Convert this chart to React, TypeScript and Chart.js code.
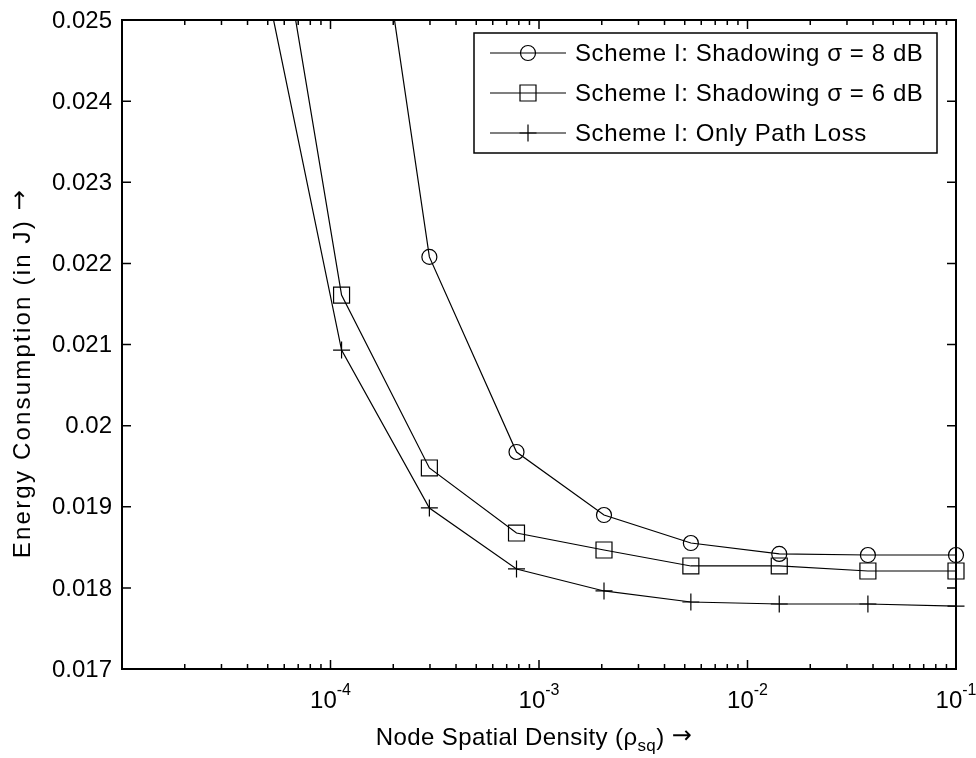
import React, { useEffect, useRef } from 'react';
import { Chart, registerables } from 'chart.js';

Chart.register(...registerables);

// ---- data ----
const xValues = [4.28e-5, 1.13e-4, 2.98e-4, 7.8e-4, 2.05e-3, 5.35e-3, 1.42e-2, 3.78e-2, 0.1];
const shadowing8 = [0.0385, 0.02943, 0.02208, 0.019675, 0.018898, 0.018553, 0.018418, 0.018405, 0.018405];
const shadowing6 = [0.0281, 0.021609, 0.019478, 0.018676, 0.018467, 0.01827, 0.01827, 0.018208, 0.018208];
const pathLoss = [0.02619, 0.020931, 0.018985, 0.018233, 0.017962, 0.017826, 0.017801, 0.017801, 0.017776];
const seriesLabels = [
  'Scheme I: Shadowing \u03c3 = 8 dB',
  'Scheme I: Shadowing \u03c3 = 6 dB',
  'Scheme I: Only Path Loss',
];
const seriesMarkers = ['circle', 'rect', 'cross'];
const yTicks = [0.017, 0.018, 0.019, 0.02, 0.021, 0.022, 0.023, 0.024, 0.025];
const xDecades = [-5, -4, -3, -2, -1];
const xLabelExps = [-4, -3, -2, -1];
const xTitleMain = 'Node Spatial Density (\u03c1';
const xTitleSub = 'sq';
const xTitleEnd = ')';
const yTitleText = 'Energy Consumption (in J)';
const ARROW = '\u2192';

const FONT = '"Liberation Sans", Arial, sans-serif';
const ARROW_FONT = '"DejaVu Sans", sans-serif';

function setSpacing(ctx: CanvasRenderingContext2D, px: number) {
  (ctx as any).letterSpacing = `${px}px`;
}

function drawMarker(ctx: CanvasRenderingContext2D, style: string, x: number, y: number) {
  ctx.beginPath();
  if (style === 'circle') {
    ctx.arc(x, y, 7.5, 0, Math.PI * 2);
  } else if (style === 'rect') {
    ctx.rect(x - 8, y - 8, 16, 16);
  } else {
    ctx.moveTo(x - 8.5, y);
    ctx.lineTo(x + 8.5, y);
    ctx.moveTo(x, y - 8.5);
    ctx.lineTo(x, y + 8.5);
  }
  ctx.stroke();
}

const matlabAxes = {
  id: 'matlabAxes',
  afterDatasetsDraw(chart: any) {
    const ctx: CanvasRenderingContext2D = chart.ctx;
    const { left, right, top, bottom } = chart.chartArea;
    const xs = chart.scales.x;
    const ys = chart.scales.y;
    ctx.save();
    ctx.strokeStyle = '#000';
    ctx.fillStyle = '#000';
    // box
    ctx.lineWidth = 2;
    ctx.strokeRect(left, top, right - left, bottom - top);
    // ticks
    ctx.lineWidth = 1.5;
    ctx.beginPath();
    xDecades.forEach((d) => {
      for (let m = 1; m <= 9; m++) {
        const v = m * Math.pow(10, d);
        if (v > 0.1 * 1.0001) continue;
        const px = xs.getPixelForValue(v);
        const len = m === 1 ? 9 : 5;
        ctx.moveTo(px, bottom);
        ctx.lineTo(px, bottom - len);
        ctx.moveTo(px, top);
        ctx.lineTo(px, top + len);
      }
    });
    yTicks.forEach((v) => {
      const py = ys.getPixelForValue(v);
      ctx.moveTo(left, py);
      ctx.lineTo(left + 9, py);
      ctx.moveTo(right, py);
      ctx.lineTo(right - 9, py);
    });
    ctx.stroke();
    // y tick labels
    ctx.font = `24px ${FONT}`;
    ctx.textAlign = 'right';
    ctx.textBaseline = 'middle';
    yTicks.forEach((v) => {
      const py = ys.getPixelForValue(v);
      ctx.fillText(String(Number(v.toFixed(3))), left - 10, py + 1);
    });
    // x tick labels 10^n
    ctx.textBaseline = 'alphabetic';
    ctx.textAlign = 'left';
    xLabelExps.forEach((e) => {
      const px = xs.getPixelForValue(Math.pow(10, e));
      ctx.font = `24px ${FONT}`;
      const wb = ctx.measureText('10').width;
      ctx.font = `16px ${FONT}`;
      const es = String(e);
      const we = ctx.measureText(es).width;
      const x0 = px - (wb + we) / 2;
      ctx.font = `24px ${FONT}`;
      ctx.fillText('10', x0, 708);
      ctx.font = `16px ${FONT}`;
      ctx.fillText(es, x0 + wb, 695);
    });
    // x title
    setSpacing(ctx, 0.4);
    ctx.font = `24px ${FONT}`;
    const w1 = ctx.measureText(xTitleMain).width;
    const w3 = ctx.measureText(xTitleEnd + ' ').width;
    ctx.font = `24px ${ARROW_FONT}`;
    const w4 = ctx.measureText(ARROW).width;
    ctx.font = `17px ${FONT}`;
    const w2 = ctx.measureText(xTitleSub).width;
    const cx = (left + right) / 2 - 5;
    let tx = cx - (w1 + w2 + w3 + w4) / 2;
    ctx.font = `24px ${FONT}`;
    ctx.fillText(xTitleMain, tx, 745);
    tx += w1;
    ctx.font = `17px ${FONT}`;
    ctx.fillText(xTitleSub, tx, 751);
    tx += w2;
    ctx.font = `24px ${FONT}`;
    ctx.fillText(xTitleEnd + ' ', tx, 745);
    tx += w3;
    ctx.font = `24px ${ARROW_FONT}`;
    ctx.fillText(ARROW, tx, 743);
    // y title
    ctx.save();
    ctx.translate(22, 373);
    ctx.rotate(-Math.PI / 2);
    ctx.textAlign = 'left';
    ctx.textBaseline = 'middle';
    setSpacing(ctx, 2.2);
    ctx.font = `24px ${FONT}`;
    const yw = ctx.measureText(yTitleText + ' ').width;
    ctx.font = `24px ${ARROW_FONT}`;
    const aw = ctx.measureText(ARROW).width;
    const sx = -(yw + aw) / 2;
    ctx.font = `24px ${FONT}`;
    ctx.fillText(yTitleText + ' ', sx, 1);
    ctx.font = `24px ${ARROW_FONT}`;
    setSpacing(ctx, 0);
    ctx.fillText(ARROW, sx + yw, -1);
    ctx.restore();
    // legend
    setSpacing(ctx, 0.6);
    const lx0 = 474, ly0 = 33, lx1 = 937, ly1 = 153;
    ctx.fillStyle = '#fff';
    ctx.fillRect(lx0, ly0, lx1 - lx0, ly1 - ly0);
    ctx.lineWidth = 1.5;
    ctx.strokeRect(lx0, ly0, lx1 - lx0, ly1 - ly0);
    ctx.fillStyle = '#000';
    ctx.font = `24px ${FONT}`;
    ctx.textAlign = 'left';
    ctx.textBaseline = 'middle';
    seriesLabels.forEach((lab, i) => {
      const y = 53 + i * 40;
      ctx.lineWidth = 1.2;
      ctx.beginPath();
      ctx.moveTo(490, y);
      ctx.lineTo(566, y);
      ctx.stroke();
      drawMarker(ctx, seriesMarkers[i], 528, y);
      ctx.fillText(lab, 575, y + 1);
    });
    ctx.restore();
  },
};

export default function App() {
  const ref = useRef<HTMLCanvasElement | null>(null);
  useEffect(() => {
    document.body.style.margin = '0';
    const canvas = ref.current!;
    const series = [shadowing8, shadowing6, pathLoss];
    const chart = new Chart(canvas, {
      type: 'line',
      data: {
        datasets: series.map((vals, i) => ({
          label: seriesLabels[i],
          data: xValues.map((x, j) => ({ x, y: vals[j] })),
          borderColor: '#000',
          borderWidth: 1.2,
          pointStyle: seriesMarkers[i] as any,
          pointRadius: seriesMarkers[i] === 'rect' ? 11.3 : seriesMarkers[i] === 'cross' ? 8.5 : 7.5,
          pointBorderWidth: 1.2,
          pointBorderColor: '#000',
          pointBackgroundColor: 'rgba(0,0,0,0)',
          fill: false,
          tension: 0,
          clip: { left: 0, top: 0, right: 14, bottom: 0 } as any,
        })),
      },
      options: {
        animation: false,
        responsive: false,
        devicePixelRatio: 1,
        layout: { padding: { top: 20, right: 20, left: 0, bottom: 0 } },
        plugins: { legend: { display: false }, tooltip: { enabled: false } },
        events: [],
        scales: {
          x: {
            type: 'logarithmic',
            min: 1e-5,
            max: 0.1,
            grid: { display: false },
            border: { display: false },
            ticks: { display: false },
            afterFit: (s: any) => { s.height = 89; },
          },
          y: {
            type: 'linear',
            min: 0.017,
            max: 0.025,
            grid: { display: false },
            border: { display: false },
            ticks: { display: false },
            afterFit: (s: any) => { s.width = 122; },
          },
        },
      },
      plugins: [matlabAxes],
    });
    return () => chart.destroy();
  }, []);
  return <canvas ref={ref} width={976} height={758} style={{ display: 'block' }} />;
}
